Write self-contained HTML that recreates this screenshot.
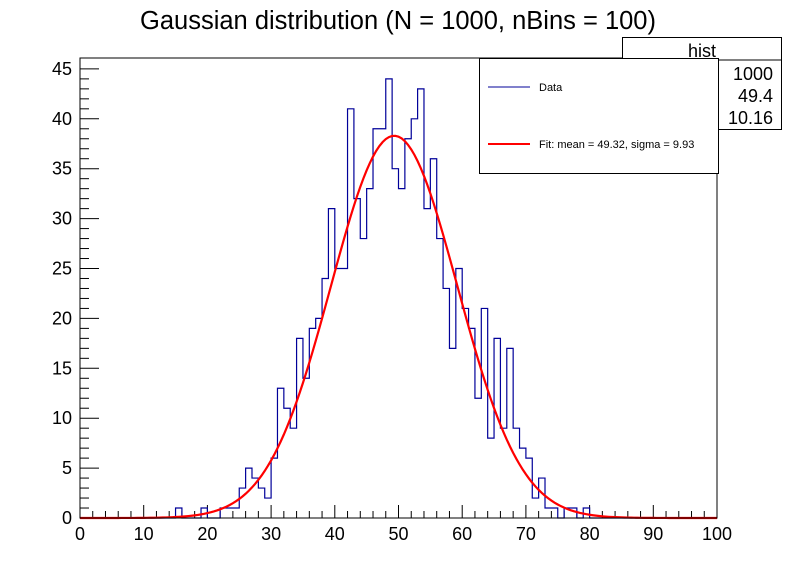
<!DOCTYPE html>
<html><head><meta charset="utf-8"><style>
body{margin:0;background:#fff;}
svg text{font-family:"Liberation Sans",sans-serif;}
</style></head><body>
<svg id="c" width="798" height="576" xmlns="http://www.w3.org/2000/svg">
<rect x="0" y="0" width="798" height="576" fill="#fff"/>
<text x="398" y="29" font-size="25.5" text-anchor="middle">Gaussian distribution (N = 1000, nBins = 100)</text>
<g id="axes"></g>
<g id="hist"></g>
<g id="fit"></g>
<rect x="80" y="58" width="637" height="460" fill="none" stroke="#000" stroke-width="1"/>
<g>
<rect x="622.5" y="37.5" width="159" height="92" fill="#fff" stroke="#000"/>
<line x1="622.5" y1="60" x2="781.5" y2="60" stroke="#000"/>
<text x="702" y="57" font-size="18" text-anchor="middle">hist</text>
<text x="630" y="80" font-size="18">Entries</text>
<text x="630" y="102" font-size="18">Mean</text>
<text x="630" y="124" font-size="18">Std Dev</text>
<text x="773" y="80" font-size="18" text-anchor="end">1000</text>
<text x="773" y="102" font-size="18" text-anchor="end">49.4</text>
<text x="773" y="124" font-size="18" text-anchor="end">10.16</text>
</g>
<g>
<rect x="479.5" y="58.5" width="239" height="115" fill="#fff" stroke="#000"/>
<line x1="488" y1="87" x2="530" y2="87" stroke="#000099" stroke-width="1"/>
<text x="539" y="91" font-size="11">Data</text>
<line x1="488" y1="144" x2="530" y2="144" stroke="#f00" stroke-width="2"/>
<text x="539" y="148" font-size="11">Fit: mean = 49.32, sigma = 9.93</text>
</g>
</svg>
<script>
const binCounts=[0,0,0,0,0,0,0,0,0,0, 0,0,0,0,0,1,0,0,0,1, 0,0,1,1,1,3,5,4,3,2, 6,13,11,9,18,14,19,20,24,31, 25,25,41,32,28,33,39,39,44,35, 33,38,40,43,31,36,28,23,17,25, 21,19,12,21,8,18,9,17,9,7, 6,2,4,1,1,0,1,1,0,1, 0,0,0,0,0,0,0,0,0,0, 0,0,0,0,0,0,0,0,0,0];
const fitMean=49.32, fitSigma=9.93, fitAmp=38.3;
const xTicks=[0,10,20,30,40,50,60,70,80,90,100];
const yTicks=[0,5,10,15,20,25,30,35,40,45];
const X0=80,X1=717,Y0=518;
function xs(v){return X0+(v/100)*(X1-X0);}
function ys(v){return Y0-v*9.98;}
const NS='http://www.w3.org/2000/svg';
function mk(t,a,p){const e=document.createElementNS(NS,t);for(const k in a)e.setAttribute(k,a[k]);p.appendChild(e);return e;}
const axes=document.getElementById('axes');
for(let v=0;v<=100;v+=2){const maj=v%10===0;const l=mk('line',{x1:xs(v),x2:xs(v),y1:Y0,y2:Y0-(maj?13:7),stroke:'#000'},axes);

}
for(let v=0;v<=45;v++){const maj=v%5===0;const l=mk('line',{x1:X0,x2:X0+(maj?19:9),y1:ys(v),y2:ys(v),stroke:'#000'},axes);

}
xTicks.forEach(v=>{const t=mk('text',{x:xs(v),y:540,'font-size':18,'text-anchor':'middle'},axes);t.textContent=v;

});
yTicks.forEach(v=>{const t=mk('text',{x:72,y:ys(v)+6,'font-size':18,'text-anchor':'end'},axes);t.textContent=v;

});
let d='M'+xs(0)+','+ys(binCounts[0]);
binCounts.forEach((c,i)=>{d+=' L'+xs(i)+','+ys(c)+' L'+xs(i+1)+','+ys(c);});
const h=mk('path',{d:d,fill:'none',stroke:'#000099','stroke-width':1.2},document.getElementById('hist'));


let fd='';
for(let v=0;v<=100;v+=0.5){const y=fitAmp*Math.exp(-0.5*Math.pow((v-fitMean)/fitSigma,2));fd+=(v===0?'M':' L')+xs(v).toFixed(2)+','+ys(y).toFixed(2);}
const f=mk('path',{d:fd,fill:'none',stroke:'#f00','stroke-width':2.2},document.getElementById('fit'));


</script>
</body></html>
